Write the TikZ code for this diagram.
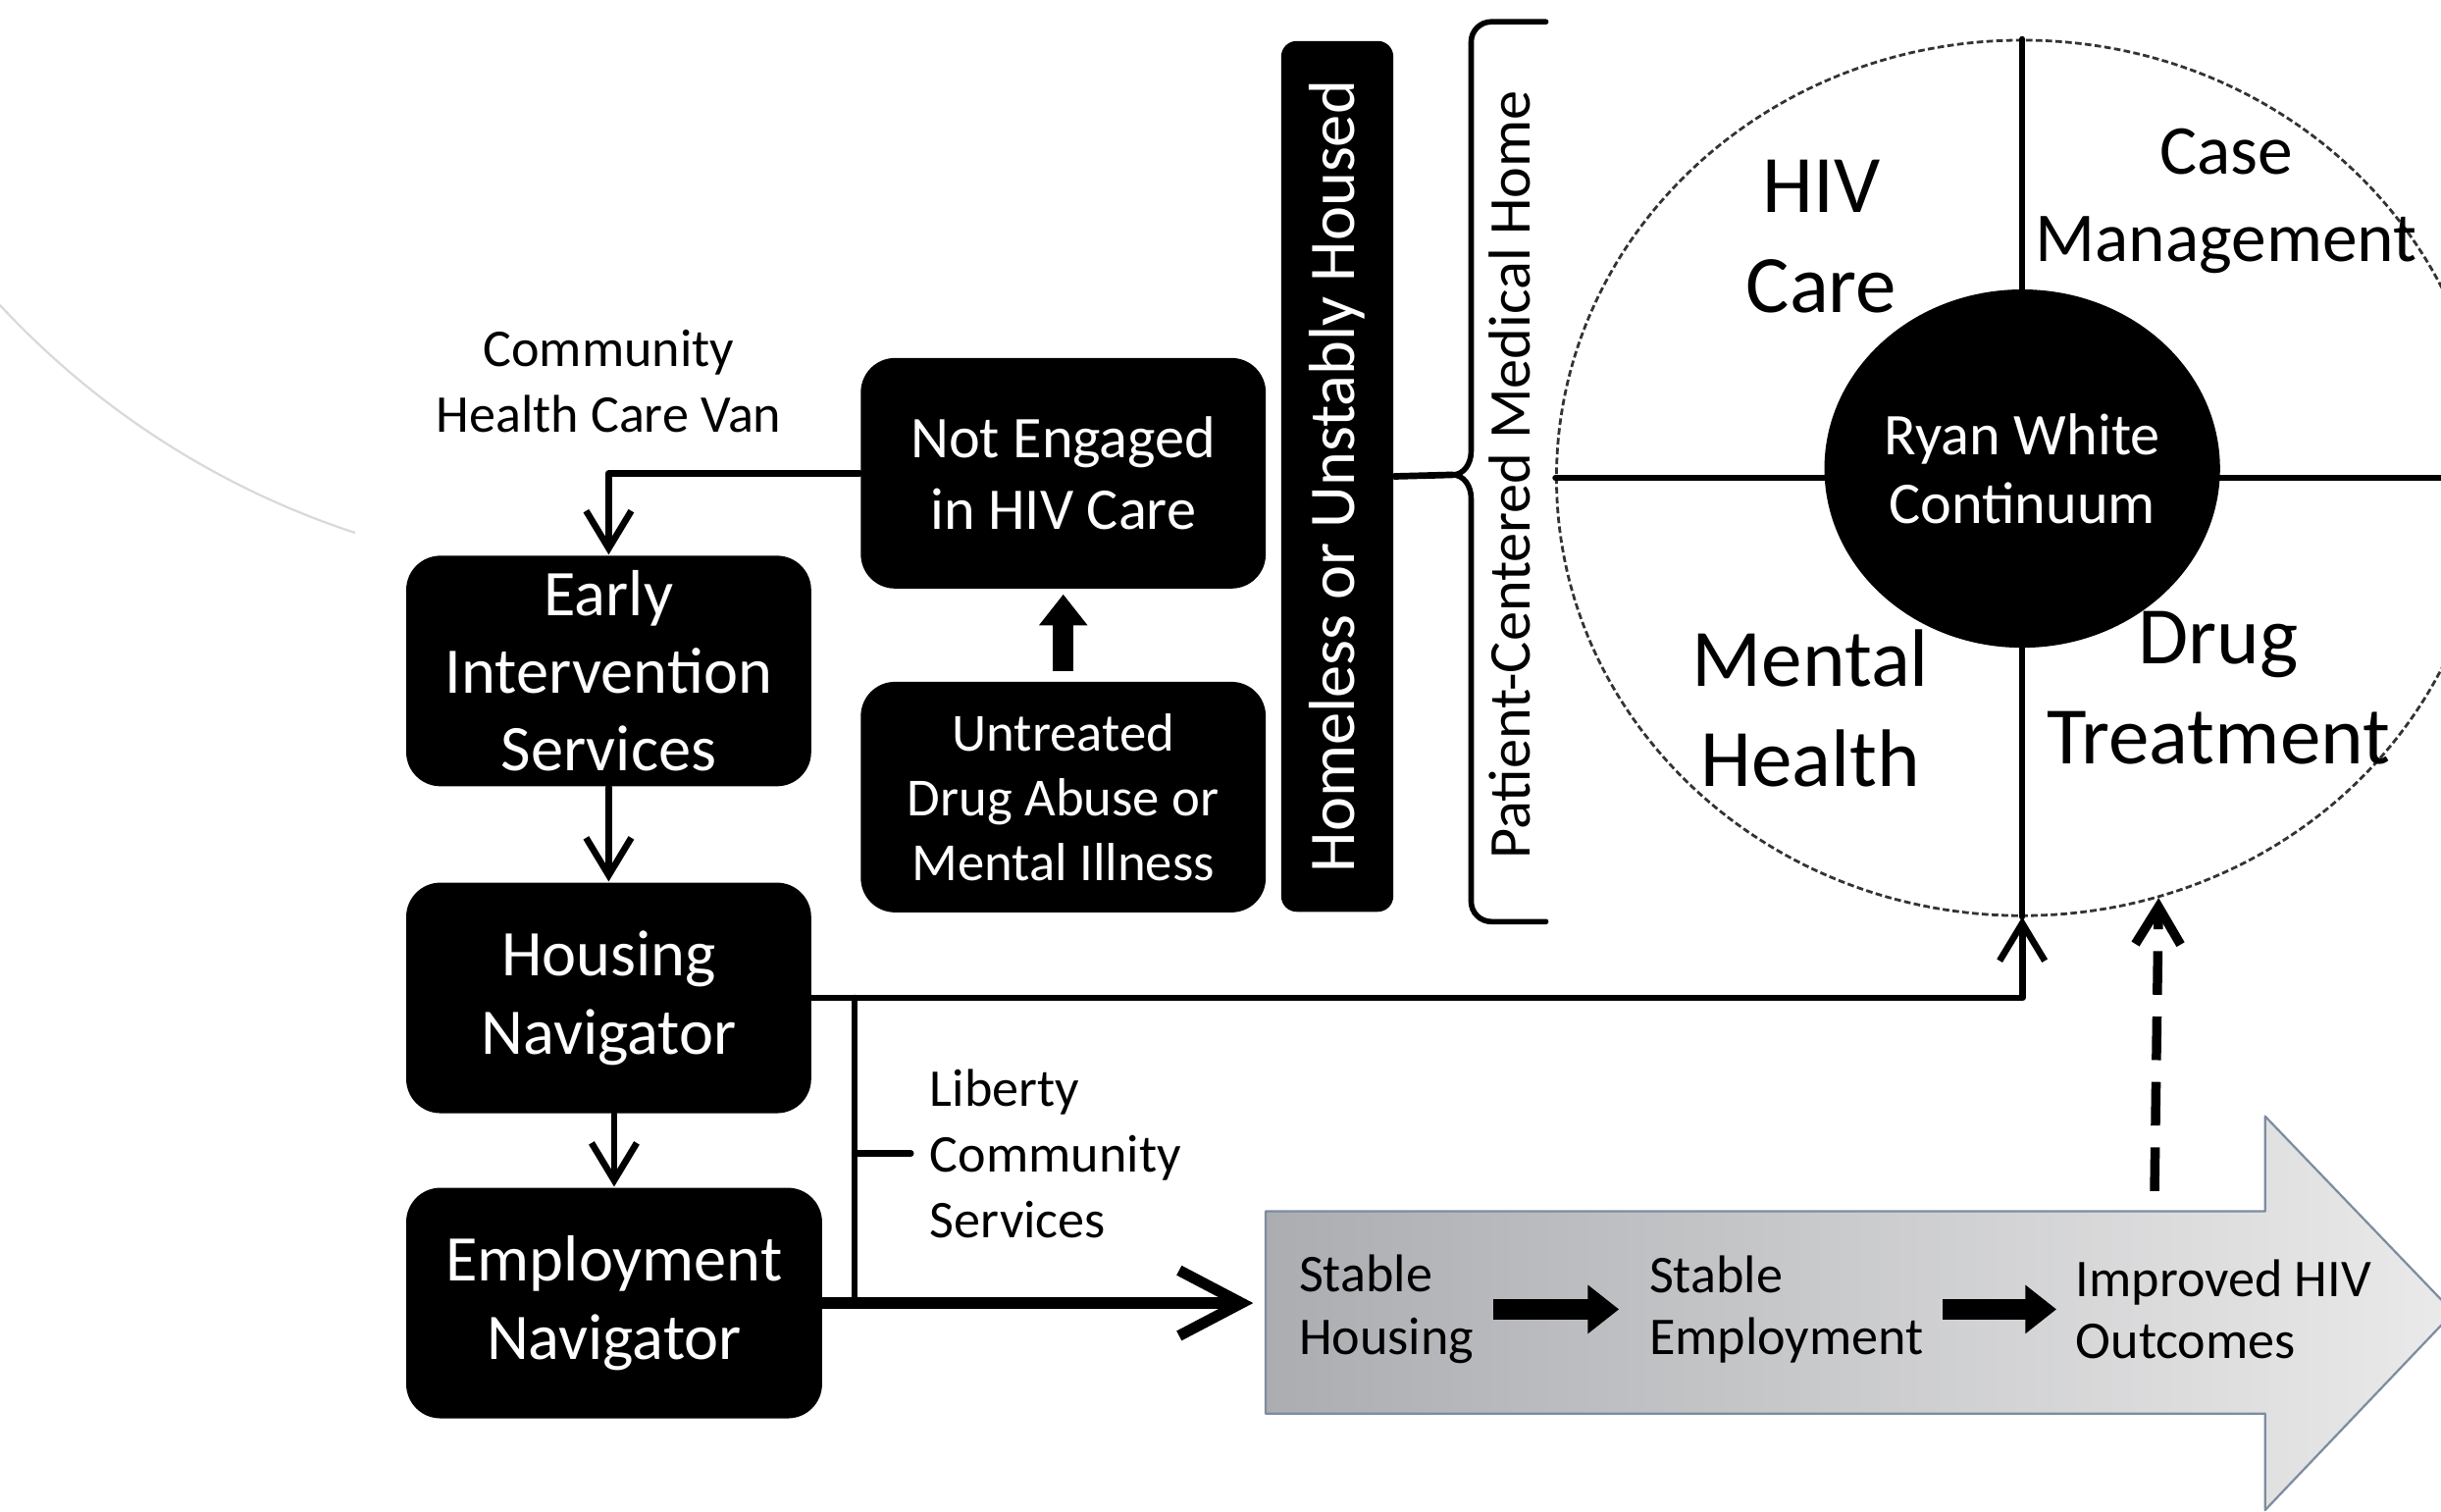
\documentclass[tikz,border=0pt]{standalone}
\usepackage{fontspec}
\setmainfont{Carlito}
\usepackage{tikz}
\usetikzlibrary{calc}
\usetikzlibrary{arrows.meta}
\usetikzlibrary{positioning}
\usepgflibrary{shapes.geometric}

\definecolor{flowdark}{RGB}{172,173,177}
\definecolor{flowlight}{RGB}{234,234,234}
\definecolor{flowedge}{RGB}{125,140,160}

\begin{document}
\begin{tikzpicture}[x=0.01cm, y=-0.01cm, line cap=round, line join=round,
    >={Straight Barb[length=2.4mm, width=2.9mm]},
    navbox/.style={rectangle, rounded corners=0.22cm, fill=black, text=white,
      align=center, minimum width=2.6cm, minimum height=1.48cm, inner sep=2pt},
    link/.style={line width=1.2pt},
    fatarrow/.style={line width=3.8pt, line cap=butt, -{Triangle[length=2mm, width=3mm]}},
    note/.style={align=center, font=\fontsize{9.7}{12}\selectfont},
    flowtext/.style={align=left, anchor=west, font=\fontsize{9.7}{11.4}\selectfont},
    quad/.style={align=center, font=\fontsize{14.9}{18.2}\selectfont}]

  \useasboundingbox (0,0) rectangle (1568,971);

  %--- faint arc in the corner
  \begin{scope}
    \clip (0,0) rectangle (228,400);
    \draw[black!15, thin] (396.8,-172.7) circle[radius=541.7];
  \end{scope}

  %--- Ryan White circle
    \node[ellipse, draw=black!80, line cap=butt, line width=0.5pt, dash pattern=on 1.2pt off 0.6pt, minimum width=5.98cm, minimum height=5.62cm, inner sep=0pt] (circ) at (1299,307) {};
    \draw[line width=1pt] (circ.north) -- (circ.south);
    \draw[line width=1pt] (circ.west) -- (circ.east);
    \node[ellipse, fill=black, text=white, align=center, inner sep=0pt, minimum width=2.54cm, minimum height=2.3cm, font=\fontsize{10.8}{12.5}\selectfont] (ryan) at (1299,301) {Ryan White\\Continuum};
    \node[quad] (hivcare) at (1170,152) {HIV\\Care};
    \node[quad, font=\fontsize{12.8}{16}\selectfont] (casemgmt) at (1430,129) {Case\\Management};
    \node[quad] (mental) at (1163,455) {Mental\\Health};
    \node[quad] (drug) at (1425,442) {Drug\\Treatment};

  %--- Homeless and medical home
    \node[navbox, rotate=90, minimum width=5.59cm, minimum height=0.72cm, rounded corners=0.1cm, font=\fontsize{11.9}{14}\selectfont] (home) at (859,306) {Homeless or Unstably Housed};
    \node[rotate=90, font=\fontsize{10.8}{13}\selectfont] (pcmh) at (970,305) {Patient-Centered Medical Home};
    \coordinate (bracetip) at (933,305);
    \draw[line width=1pt] (993,14) -- (958,14) to[out=180, in=90] (945,27) -- (945,290) to[out=-90, in=0] (bracetip) to[out=0, in=90] (945,320) -- (945,579) to[out=-90, in=180] (958,592) -- (993,592);
    \draw[link] (home.south) -- (bracetip);

  %--- Not engaged
    \node[navbox, font=\fontsize{10.8}{13.1}\selectfont] (noteng) at (683,304) {Not Engaged\\in HIV Care};
    \node[navbox, font=\fontsize{9.8}{11.8}\selectfont] (untreat) at (683,512) {Untreated\\Drug Abuse or\\Mental Illness};
    \draw[fatarrow, shorten <=0.06cm, shorten >=0.03cm] (untreat.north) -- (noteng.south);

  %--- Navigators
    \node[note] (van) at (391,245) {Community\\Health Care Van};
    \node[navbox, font=\fontsize{11.9}{14.2}\selectfont] (early) at (391,431) {Early\\Intervention\\Services};
    \node[navbox, font=\fontsize{11.9}{14.4}\selectfont] (housing) at (391,641) {Housing\\Navigator};
    \node[navbox, minimum width=2.67cm, font=\fontsize{11.9}{14.4}\selectfont] (employ) at (394.5,837) {Employment\\Navigator};
    \draw[link, ->] (noteng.west) -| (early.north);
    \draw[link, ->] (early.south) -- (housing.north);
    \draw[link, ->] (employ.north |- housing.south) -- (employ.north);
    \draw[link, ->] (housing.east) -| (circ.south);

  %--- Liberty
    \coordinate (libx) at (549,0);
    \node[note, align=left, anchor=west] (liberty) at (585,741) {Liberty\\Community\\Services};
    \draw[link] (housing.east -| libx) -- (employ.east -| libx);
    \draw[link] (liberty.west -| libx) -- (liberty.west);

  %--- Outcome arrow
    \shadedraw[left color=flowdark, right color=flowlight, draw=flowedge, thin] (813,778) -- (1455,778) -- (1455,717) -- (1576,843) -- (1455,970) -- (1455,908) -- (813,908) -- cycle;
    \coordinate (flowtail) at (813,843);
    \draw[line width=2pt, -{Straight Barb[length=4mm, width=4.2mm]}, shorten >=0.08cm] (employ.east) -- (employ.east -| flowtail);
    \node[flowtext] (sthouse) at (822,841) {Stable\\Housing};
    \node[flowtext] (stemp) at (1047,841) {Stable\\Employment};
    \node[flowtext] (improved) at (1321,841) {Improved HIV\\Outcomes};
    \draw[fatarrow, shorten >=0.07cm] (sthouse.east) -- (stemp.west);
    \draw[fatarrow] (stemp.east) -- (improved.west);
    \coordinate (dashfoot) at (1384,765);
    \draw[line width=1.7pt, line cap=butt, dash pattern=on 0.28cm off 0.14cm, ->] (dashfoot) -- (circ.-72.6);
\end{tikzpicture}
\end{document}
